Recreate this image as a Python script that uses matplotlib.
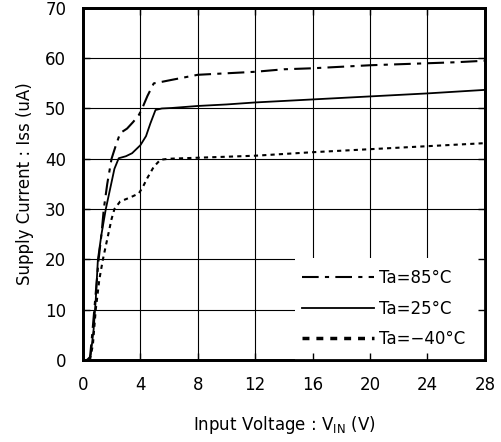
import matplotlib
matplotlib.use("Agg")
import matplotlib.pyplot as plt
from matplotlib.patches import Rectangle

# Supply current vs input voltage
v_85 = [0.3, 0.5, 0.65, 0.8, 0.95, 1.1, 1.3, 1.46, 1.7, 2.0, 2.27, 2.6, 3.08, 3.5, 3.9, 4.13,
        4.5, 4.94, 5.5, 6.2, 8, 10, 12, 14, 16, 18, 20, 22, 24, 26, 28]
i_85 = [0, 0.5, 5, 10, 15, 20, 25, 30, 35, 40, 42.4, 45.1, 46, 47.3, 48.7, 50,
        52.5, 55, 55.3, 55.7, 56.7, 57.0, 57.3, 57.8, 58.0, 58.3, 58.6, 58.8, 59.0, 59.2, 59.5]

v_25 = [0.4, 0.55, 0.75, 0.9, 1.05, 1.3, 1.6, 1.9, 2.2, 2.5, 3.0, 3.43, 4.01, 4.4, 4.7, 5.06,
        5.5, 6.2, 8, 10, 12, 16, 20, 24, 28]
i_25 = [0, 1, 6, 12, 20, 25, 30, 34, 38, 40.1, 40.5, 41.1, 42.7, 44.5, 47, 49.7,
        50.0, 50.1, 50.5, 50.8, 51.2, 51.8, 52.4, 53.0, 53.7]

v_m40 = [0.5, 0.7, 0.9, 1.15, 1.4, 1.7, 2.0, 2.2, 2.6, 3.3, 3.9, 4.2, 4.48, 4.94, 5.4,
         6, 8, 10, 12, 16, 20, 24, 28]
i_m40 = [0, 3, 10, 16, 20, 24, 28, 30, 31.5, 32.3, 33.1, 34.5, 36.1, 38.4, 39.8,
         40.0, 40.2, 40.4, 40.6, 41.3, 41.9, 42.5, 43.1]

labels = ["Ta=85\u00b0C", "Ta=25\u00b0C", "Ta=\u221240\u00b0C"]
x_ticks = [0, 4, 8, 12, 16, 20, 24, 28]
y_ticks = [0, 10, 20, 30, 40, 50, 60, 70]

fig = plt.figure(figsize=(5.02, 4.42), dpi=100)
pos = [0.165, 0.186, 0.801, 0.796]
ax = fig.add_axes(pos)

ax.plot(v_85, i_85, color="k", lw=1.5, ls=(0, (8, 3, 2, 3)), label=labels[0])
ax.plot(v_25, i_25, color="k", lw=1.3, ls="-", label=labels[1])
ax.plot(v_m40, i_m40, color="k", lw=1.5, ls=(0, (2, 2)), label=labels[2])

ax.set_xlim(0, 28)
ax.set_ylim(0, 70)
ax.set_xticks(x_ticks)
ax.set_yticks(y_ticks)
ax.grid(True, color="k", lw=0.8)
ax.tick_params(length=0, labelsize=12, pad=12)
for s in ax.spines.values():
    s.set_linewidth(2)

# white box behind the legend hides the grid there
ax.add_patch(Rectangle((0.527, 0.0), 0.473, 0.29, transform=ax.transAxes,
                       facecolor="white", edgecolor="none", zorder=3))
leg = ax.legend(loc="lower right", bbox_to_anchor=(0.98, 0.0), frameon=False,
                fontsize=12, handlelength=4.3, handletextpad=0.3, labelspacing=0.75,
                borderaxespad=0.3)
leg.set_zorder(4)
leg.get_lines()[2].set_linewidth(2.5)

ax.set_xlabel("Input Voltage : V$_{\\mathrm{IN}}$ (V)", fontsize=12, labelpad=14)
ax.set_ylabel("Supply Current : Iss (uA)", fontsize=12, labelpad=8)

# overlay axes only for the inward tick marks
ax_t = fig.add_axes(pos, facecolor="none", sharex=ax, sharey=ax)
ax_t.tick_params(direction="in", length=5, width=1, top=True, right=True,
                 labelbottom=False, labelleft=False)
for s in ax_t.spines.values():
    s.set_linewidth(2)

fig.savefig("out.png", dpi=100)
